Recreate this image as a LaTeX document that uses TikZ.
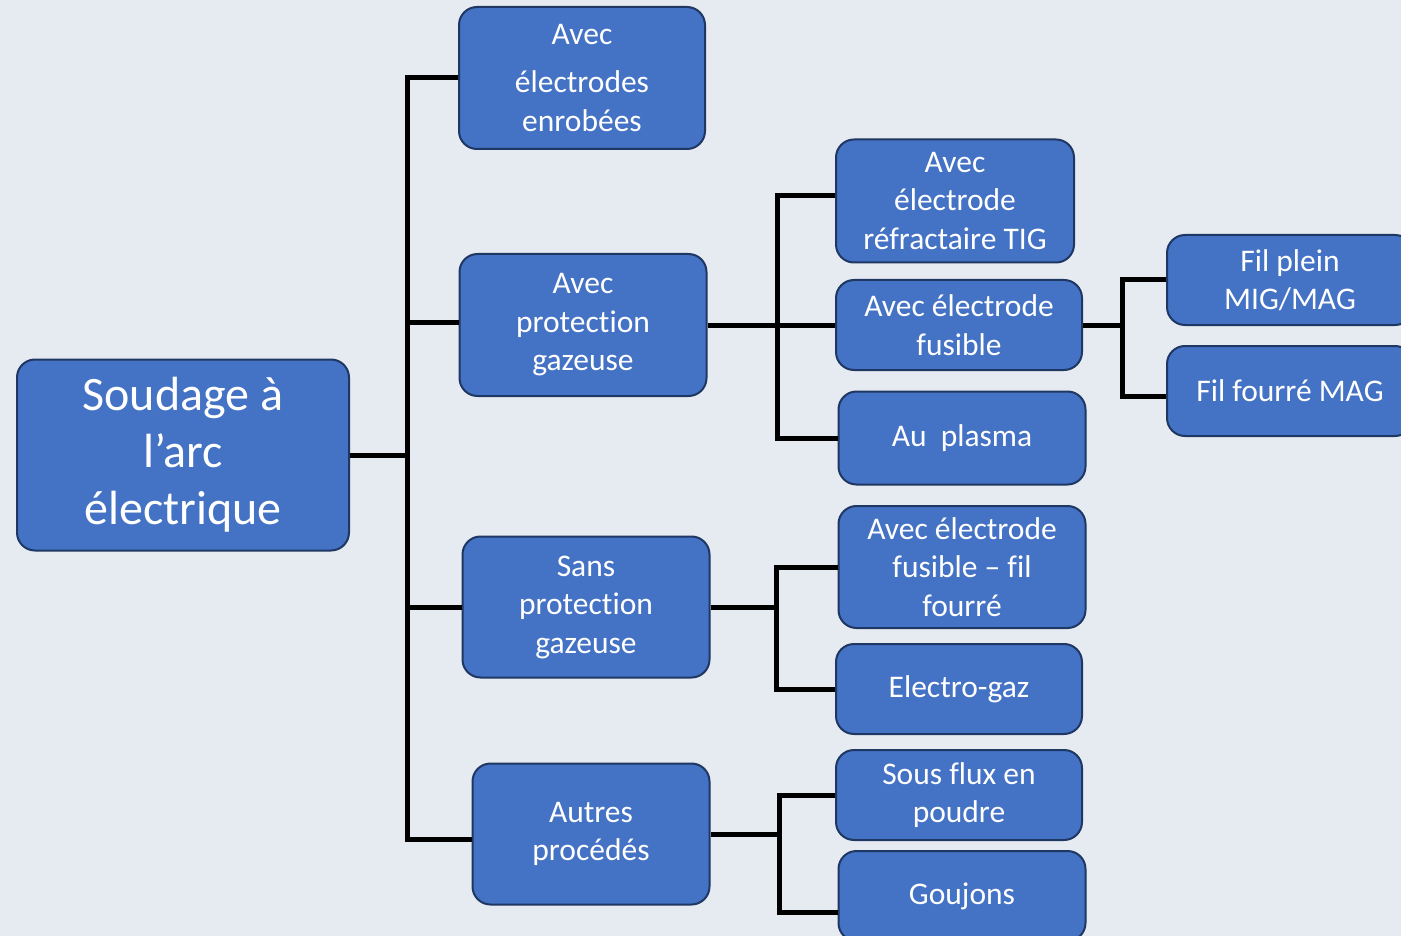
\documentclass[tikz,border=0pt]{standalone}
\usepackage{fontspec}
\setmainfont{Carlito}[Ligatures={NoCommon}]
\definecolor{bgc}{HTML}{E6EAF1}
\definecolor{boxfill}{HTML}{4472C4}
\definecolor{boxline}{HTML}{1F3763}
\tikzset{
  box/.style={draw=boxline, line width=2pt, fill=boxfill, rounded corners=18pt,
    text=white, align=center, inner sep=0pt,
    font=\fontsize{31.5}{38.5}\selectfont},
  conn/.style={draw=black, line width=5pt}
}
\begin{document}
\begin{tikzpicture}[x=1pt,y=-1pt]
\fill[bgc] (0,0) rectangle (1401,936);
\useasboundingbox (0,0) rectangle (1401,936);
\begin{scope}
\clip (0,0) rectangle (1401,936);
% junction points
\coordinate (j1) at (407,455);
\coordinate (j2) at (777,325);
\coordinate (j3) at (1122,325);
\coordinate (j4) at (776,607);
\coordinate (j5) at (779,834);
% nodes
\node[box, minimum width=332pt, minimum height=191pt, font=\fontsize{48}{57}\selectfont] (root) at (183,455) {Soudage à\\ l’arc\\ électrique};
\node[box, minimum width=246pt, minimum height=142pt] (b2) at (582,78) {Avec\\[10pt] électrodes\\ enrobées};
\node[box, minimum width=247pt, minimum height=142pt] (b3) at (583,325) {Avec\\ protection\\ gazeuse};
\node[box, minimum width=247pt, minimum height=141pt] (b4) at (586,607) {Sans\\ protection\\ gazeuse};
\node[box, minimum width=237pt, minimum height=141pt] (b5) at (591,834) {Autres\\ procédés};
\node[box, minimum width=238pt, minimum height=123pt] (b6) at (955,201) {Avec\\ électrode\\ réfractaire TIG};
\node[box, minimum width=246pt, minimum height=90pt] (b7) at (959,325) {Avec électrode\\ fusible};
\node[box, minimum width=247pt, minimum height=93pt] (b8) at (962,438) {Au~~plasma};
\node[box, minimum width=246pt, minimum height=90pt] (b9) at (1290,280) {Fil plein\\ MIG/MAG};
\node[box, minimum width=246pt, minimum height=90pt] (b10) at (1290,391) {Fil fourré MAG};
\node[box, minimum width=247pt, minimum height=122pt] (b11) at (962,567) {Avec électrode\\ fusible – fil\\ fourré};
\node[box, minimum width=246pt, minimum height=90pt] (b12) at (959,689) {Electro-gaz};
\node[box, minimum width=246pt, minimum height=90pt] (b13) at (959,795) {Sous flux en\\ poudre};
\node[box, minimum width=247pt, minimum height=90pt] (b14) at (962,896) {Goujons};
% connectors
\draw[conn] (root.east) -- (j1);
\draw[conn] (j1) |- (b2.west);
\draw[conn] (j1) |- ([yshift=3pt]b3.west);
\draw[conn] (j1) |- (b4.west);
\draw[conn] (j1) |- ([yshift=-5pt]b5.west);
\draw[conn] (b3.east) -- (j2);
\draw[conn] (j2) |- ([yshift=5pt]b6.west);
\draw[conn] (j2) -- (b7.west);
\draw[conn] (j2) |- (b8.west);
\draw[conn] (b7.east) -- (j3);
\draw[conn] (j3) |- (b9.west);
\draw[conn] (j3) |- ([yshift=-5pt]b10.west);
\draw[conn] (b4.east) -- (j4);
\draw[conn] (j4) |- (b11.west);
\draw[conn] (j4) |- (b12.west);
\draw[conn] (b5.east) -- (j5);
\draw[conn] (j5) |- (b13.west);
\draw[conn] (j5) |- ([yshift=-16pt]b14.west);
\end{scope}
\end{tikzpicture}
\end{document}
